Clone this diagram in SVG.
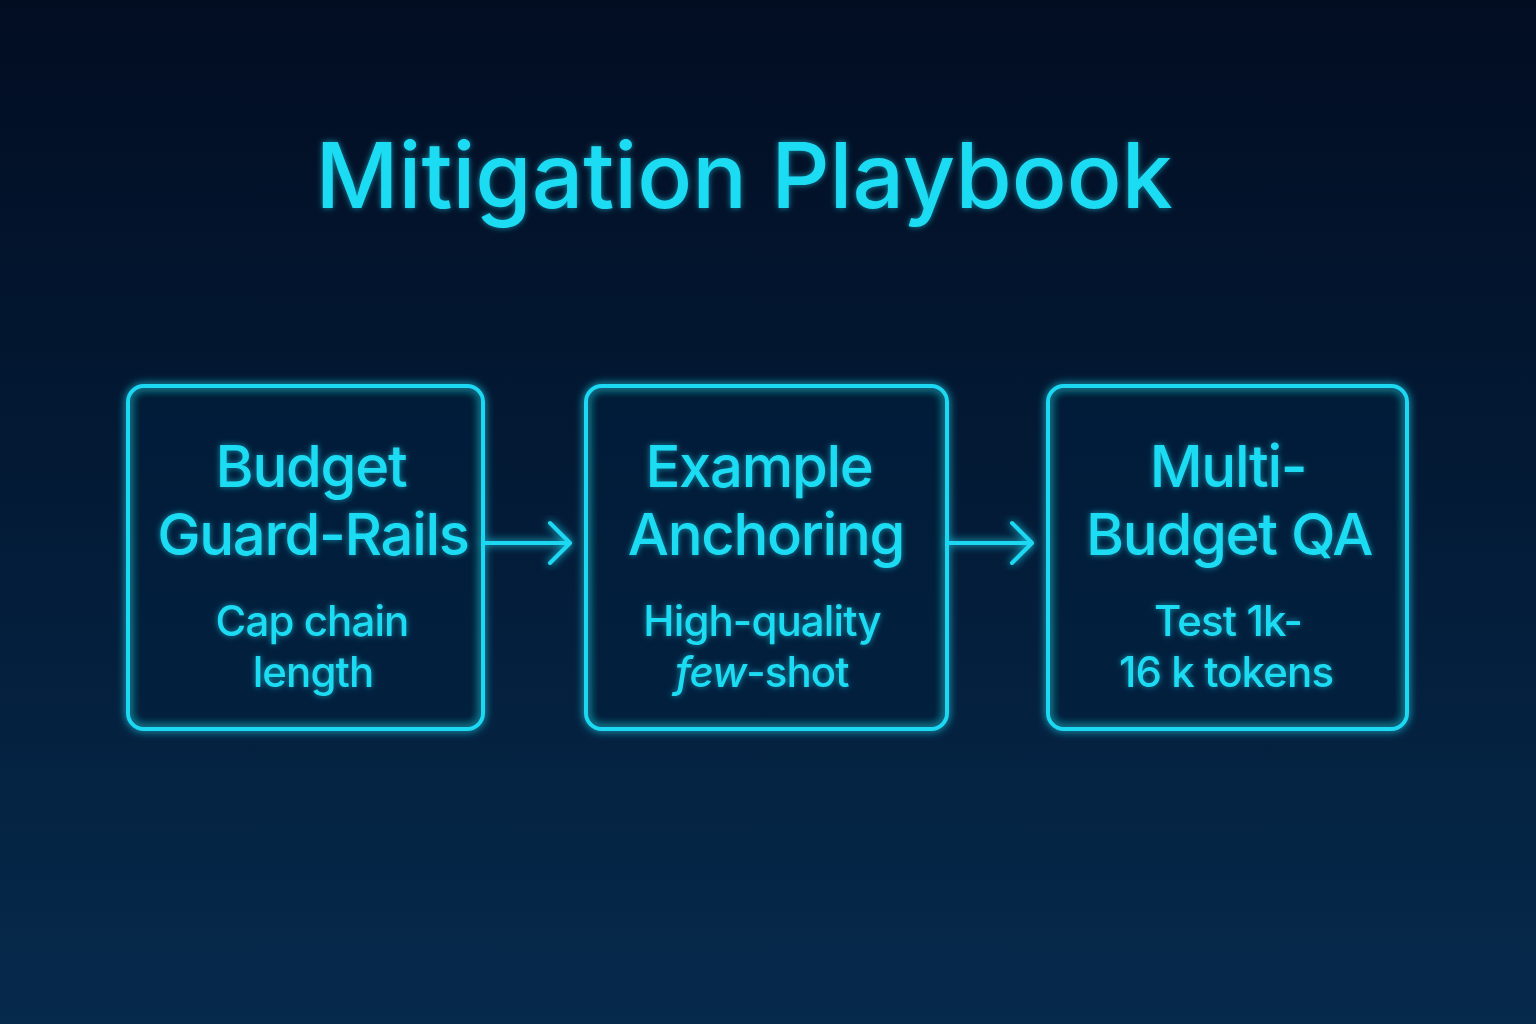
<svg xmlns="http://www.w3.org/2000/svg" width="1536" height="1024" viewBox="0 0 1536 1024">
<defs>
<linearGradient id="bg" x1="0" y1="0" x2="0" y2="1">
<stop offset="0" stop-color="#020d22"/>
<stop offset="0.5" stop-color="#031b37"/>
<stop offset="1" stop-color="#062a4c"/>
</linearGradient>
<filter id="glow" x="-20%" y="-20%" width="140%" height="140%">
<feGaussianBlur in="SourceGraphic" stdDeviation="4" result="b"/>
<feMerge><feMergeNode in="b"/><feMergeNode in="SourceGraphic"/></feMerge>
</filter>
<filter id="tglow" x="-10%" y="-30%" width="120%" height="160%">
<feGaussianBlur in="SourceGraphic" stdDeviation="3" result="b"/>
<feComponentTransfer in="b" result="b2"><feFuncA type="linear" slope="0.6"/></feComponentTransfer>
<feMerge><feMergeNode in="b2"/><feMergeNode in="SourceGraphic"/></feMerge>
</filter>
</defs>
<style>
.box{fill:#04203d;fill-opacity:0.35;stroke:#1ad8f2;stroke-width:4}
.t{font-family:Inter,"Liberation Sans",sans-serif;font-weight:500;fill:#1edcf4;text-anchor:middle}
.h{font-size:58px;letter-spacing:-1.3px}
.s{font-size:42px;letter-spacing:-0.9px}
.title{font-size:91px}
.conn{stroke:#1ad8f2;stroke-width:4;fill:none;stroke-linecap:round;stroke-linejoin:round}
</style>
<rect width="1536" height="1024" fill="url(#bg)"/>
<g id="title" filter="url(#tglow)">
<text class="t title" x="744" y="208">Mitigation Playbook</text>
</g>
<g id="node-guardrails">
<rect class="box" x="128" y="386" width="355" height="343" rx="16" filter="url(#glow)"/>
<g filter="url(#tglow)">
<text class="t h" x="311" y="487">Budget</text>
<text class="t h" x="313" y="555">Guard-Rails</text>
<text class="t s" x="312" y="636">Cap chain</text>
<text class="t s" x="313" y="687">length</text>
</g>
</g>
<g id="node-anchoring">
<rect class="box" x="586" y="386" width="361" height="343" rx="16" filter="url(#glow)"/>
<g filter="url(#tglow)">
<text class="t h" x="759" y="487">Example</text>
<text class="t h" x="766" y="555">Anchoring</text>
<text class="t s" x="762" y="636">High-quality</text>
<text class="t s" x="762" y="687"><tspan font-style="italic">few</tspan>-shot</text>
</g>
</g>
<g id="node-qa">
<rect class="box" x="1048" y="386" width="359" height="343" rx="16" filter="url(#glow)"/>
<g filter="url(#tglow)">
<text class="t h" x="1228" y="487">Multi-</text>
<text class="t h" x="1229" y="555">Budget QA</text>
<text class="t s" x="1228" y="636">Test 1k-</text>
<text class="t s" x="1226" y="687">16 k tokens</text>
</g>
</g>
<g id="connectors" filter="url(#glow)">
<path class="conn" d="M485 543 H568 M550 523 L570 543 L550 563"/>
<path class="conn" d="M949 543 H1030 M1012 523 L1032 543 L1012 563"/>
</g>
</svg>
